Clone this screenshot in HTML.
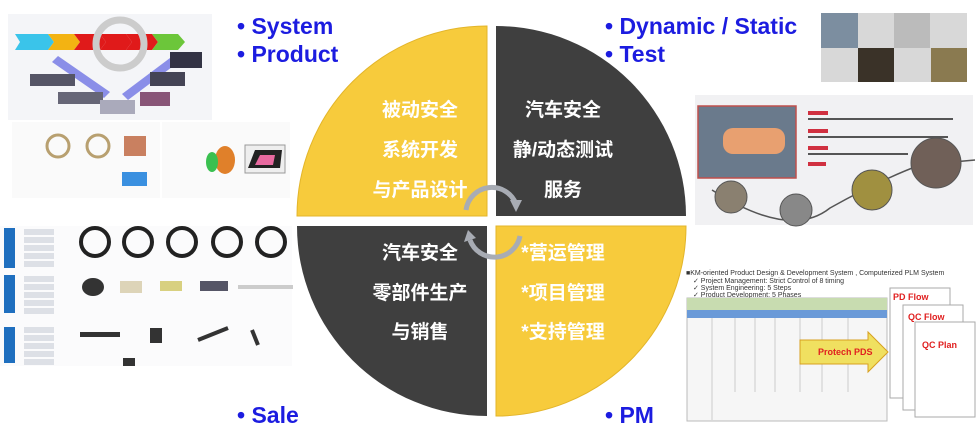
<!DOCTYPE html>
<html><head><meta charset="utf-8"><style>
html,body{margin:0;padding:0;background:#fff;width:977px;height:443px;overflow:hidden}
svg{display:block}
.b{font-family:"Liberation Sans",sans-serif;font-weight:bold;font-size:23px;fill:#1c1ce0}
.c{font-family:"Liberation Sans","Noto Sans CJK SC",sans-serif;font-weight:bold;font-size:19px;fill:#fff;text-anchor:middle}
.s{font-family:"Liberation Sans",sans-serif;font-size:7px;fill:#333}
</style></head><body>
<svg width="977" height="443" viewBox="0 0 977 443" xmlns="http://www.w3.org/2000/svg">
<!-- left images -->
<rect x="8" y="14" width="204" height="106" fill="#f4f5f8"/>
<polygon points="15,34 48,34 54,42 48,50 15,50 20,42" fill="#3ac4ea"/>
<polygon points="48,34 74,34 80,42 74,50 48,50 54,42" fill="#f3b312"/>
<polygon points="74,34 100,34 106,42 100,50 74,50 80,42" fill="#e01a1a"/>
<polygon points="100,34 126,34 132,42 126,50 100,50 106,42" fill="#e01a1a"/>
<polygon points="126,34 152,34 158,42 152,50 126,50 132,42" fill="#e01a1a"/>
<polygon points="152,34 178,34 185,42 178,50 152,50 158,42" fill="#6cc63a"/>
<circle cx="120" cy="44" r="24" fill="none" stroke="#ccc" stroke-width="7"/>
<polygon points="58,56 110,92 104,98 52,62" fill="#8a8ee8"/>
<polygon points="122,94 170,58 176,64 128,100" fill="#8a8ee8"/>
<rect x="30" y="74" width="45" height="12" fill="#556"/>
<rect x="58" y="92" width="45" height="12" fill="#667"/>
<rect x="150" y="72" width="35" height="14" fill="#445"/>
<rect x="170" y="52" width="32" height="16" fill="#334"/>
<rect x="140" y="92" width="30" height="14" fill="#857"/>
<rect x="100" y="100" width="35" height="14" fill="#aab"/>
<rect x="12" y="122" width="148" height="76" fill="#fafafa"/>
<rect x="162" y="122" width="128" height="76" fill="#fafafa"/>
<circle cx="58" cy="146" r="11" fill="none" stroke="#b8a070" stroke-width="3"/>
<circle cx="98" cy="146" r="11" fill="none" stroke="#b8a070" stroke-width="3"/>
<rect x="124" y="136" width="22" height="20" fill="#c98060"/>
<rect x="122" y="172" width="25" height="14" fill="#3a90e0"/>
<ellipse cx="225" cy="160" rx="10" ry="14" fill="#e0802a"/>
<ellipse cx="212" cy="162" rx="6" ry="10" fill="#3ac050"/>
<rect x="245" y="145" width="40" height="28" fill="#eee" stroke="#999"/>
<path d="M248,168 L255,150 L282,150 L280,168Z" fill="#222"/>
<path d="M255,165 L260,155 L275,155 L273,165Z" fill="#e86aa0"/>
<!-- left table -->
<rect x="0" y="226" width="292" height="140" fill="#fbfbfc"/>
<rect x="4" y="228" width="11" height="40" fill="#1f6fbf"/>
<rect x="4" y="275" width="11" height="38" fill="#1f6fbf"/>
<rect x="4" y="327" width="11" height="36" fill="#1f6fbf"/>
<g fill="#dde0e6">
<rect x="24" y="229" width="30" height="6"/><rect x="24" y="237" width="30" height="6"/><rect x="24" y="245" width="30" height="6"/><rect x="24" y="253" width="30" height="6"/><rect x="24" y="261" width="30" height="6"/>
<rect x="24" y="276" width="30" height="6"/><rect x="24" y="284" width="30" height="6"/><rect x="24" y="292" width="30" height="6"/><rect x="24" y="300" width="30" height="6"/><rect x="24" y="308" width="30" height="6"/>
<rect x="24" y="327" width="30" height="6"/><rect x="24" y="335" width="30" height="6"/><rect x="24" y="343" width="30" height="6"/><rect x="24" y="351" width="30" height="6"/><rect x="24" y="359" width="30" height="6"/>
</g>
<g fill="none" stroke="#222" stroke-width="4">
<circle cx="95" cy="242" r="14"/><circle cx="138" cy="242" r="14"/><circle cx="182" cy="242" r="14"/><circle cx="227" cy="242" r="14"/><circle cx="271" cy="242" r="14"/>
</g>
<ellipse cx="93" cy="287" rx="11" ry="9" fill="#333"/>
<rect x="120" y="281" width="22" height="12" fill="#ddd4b8"/>
<rect x="160" y="281" width="22" height="10" fill="#d8d080"/>
<rect x="200" y="281" width="28" height="10" fill="#556"/>
<rect x="238" y="285" width="55" height="4" fill="#ccc"/>
<rect x="80" y="332" width="40" height="5" fill="#333"/>
<rect x="150" y="328" width="12" height="15" fill="#333"/>
<line x1="198" y1="340" x2="228" y2="328" stroke="#333" stroke-width="4"/>
<line x1="252" y1="330" x2="258" y2="345" stroke="#333" stroke-width="4"/>
<rect x="123" y="358" width="12" height="8" fill="#333"/>
<!-- right images -->
<rect x="821" y="13" width="146" height="69" fill="#d8d8d8"/>
<rect x="821" y="13" width="37" height="35" fill="#7c8ea0"/>
<rect x="894" y="13" width="36" height="35" fill="#bbb"/>
<rect x="858" y="48" width="36" height="34" fill="#3a3228"/>
<rect x="931" y="48" width="36" height="34" fill="#8a7a50"/>
<rect x="695" y="95" width="278" height="130" fill="#f1f1f3"/>
<rect x="698" y="106" width="98" height="72" fill="#6a7a8c" stroke="#c0504d" stroke-width="1.5"/>
<rect x="723" y="128" width="62" height="26" rx="10" fill="#e8a070"/>
<g fill="#d03040"><rect x="808" y="111" width="20" height="4"/><rect x="808" y="129" width="20" height="4"/><rect x="808" y="146" width="20" height="4"/><rect x="808" y="162" width="18" height="4"/></g>
<g fill="#555"><rect x="808" y="118" width="145" height="2"/><rect x="808" y="136" width="140" height="2"/><rect x="808" y="153" width="100" height="2"/></g>
<path d="M712,190 Q790,240 830,208 Q880,180 920,165 L975,160" fill="none" stroke="#555" stroke-width="1.5"/>
<circle cx="731" cy="197" r="16" fill="#8a8070" stroke="#555"/>
<circle cx="796" cy="210" r="16" fill="#888" stroke="#555"/>
<circle cx="872" cy="190" r="20" fill="#a09040" stroke="#555"/>
<circle cx="936" cy="163" r="25" fill="#706058" stroke="#555"/>
<text x="686" y="275" class="s">■KM-oriented Product Design &amp; Development System , Computerized PLM System</text>
<text x="693" y="283" class="s">✓ Project Management: Strict Control of 8 timing</text>
<text x="693" y="290" class="s">✓ System Engineering: 5 Steps</text>
<text x="693" y="297" class="s">✓ Product Development: 5 Phases</text>
<rect x="687" y="298" width="200" height="123" fill="#f6f6f6" stroke="#bbb"/>
<rect x="687" y="298" width="200" height="12" fill="#c8dcb0"/>
<rect x="687" y="310" width="200" height="8" fill="#6a9ad8"/>
<g stroke="#ccc"><line x1="712" y1="318" x2="712" y2="420"/><line x1="735" y1="318" x2="735" y2="392"/><line x1="755" y1="318" x2="755" y2="392"/><line x1="775" y1="318" x2="775" y2="392"/><line x1="800" y1="318" x2="800" y2="392"/><line x1="822" y1="318" x2="822" y2="392"/><line x1="848" y1="318" x2="848" y2="392"/></g>
<polygon points="800,340 868,340 868,332 888,352 868,372 868,364 800,364" fill="#f0e060" stroke="#d8a020"/>
<rect x="890" y="288" width="60" height="110" fill="#fff" stroke="#aaa"/>
<rect x="903" y="305" width="60" height="105" fill="#fff" stroke="#aaa"/>
<rect x="915" y="322" width="60" height="95" fill="#fff" stroke="#aaa"/>
<text x="893" y="300" font-family="Liberation Sans" font-weight="bold" font-size="9" fill="#e02020">PD Flow</text>
<text x="908" y="320" font-family="Liberation Sans" font-weight="bold" font-size="9" fill="#e02020">QC Flow</text>
<text x="922" y="348" font-family="Liberation Sans" font-weight="bold" font-size="9" fill="#e02020">QC Plan</text>
<text x="818" y="355" font-family="Liberation Sans" font-weight="bold" font-size="9" fill="#e02020">Protech PDS</text>
<!-- circle quadrants -->
<path d="M487,216 L297,216 A190,190 0 0 1 487,26 Z" fill="#f7cb3c" stroke="#e3b52a"/>
<path d="M496,216 L496,26 A190,190 0 0 1 686,216 Z" fill="#3f3f3f"/>
<path d="M487,226 L487,416 A190,190 0 0 1 297,226 Z" fill="#3f3f3f"/>
<path d="M496,226 L686,226 A190,190 0 0 1 496,416 Z" fill="#f7cb3c" stroke="#e3b52a"/>
<path d="M466,210 A26,26 0 0 1 516,204" fill="none" stroke="#a8acb4" stroke-width="5"/>
<polygon points="510,200 522,200 516,212" fill="#a8acb4"/>
<path d="M520,236 A26,26 0 0 1 470,240" fill="none" stroke="#a8acb4" stroke-width="5"/>
<polygon points="464,242 476,238 468,230" fill="#a8acb4"/>
<text class="c" x="420" y="116">被动安全</text>
<text class="c" x="420" y="156">系统开发</text>
<text class="c" x="420" y="196">与产品设计</text>
<text class="c" x="563" y="116">汽车安全</text>
<text class="c" x="563" y="156">静/动态测试</text>
<text class="c" x="563" y="196">服务</text>
<text class="c" x="420" y="259">汽车安全</text>
<text class="c" x="420" y="299">零部件生产</text>
<text class="c" x="420" y="338">与销售</text>
<text class="c" x="563" y="259">*营运管理</text>
<text class="c" x="563" y="299">*项目管理</text>
<text class="c" x="563" y="338">*支持管理</text>
<!-- blue labels -->
<text class="b" x="237" y="34">• System</text>
<text class="b" x="237" y="62">• Product</text>
<text class="b" x="605" y="34">• Dynamic / Static</text>
<text class="b" x="605" y="62">• Test</text>
<text class="b" x="237" y="423">• Sale</text>
<text class="b" x="605" y="423">• PM</text>
</svg>
</body></html>
